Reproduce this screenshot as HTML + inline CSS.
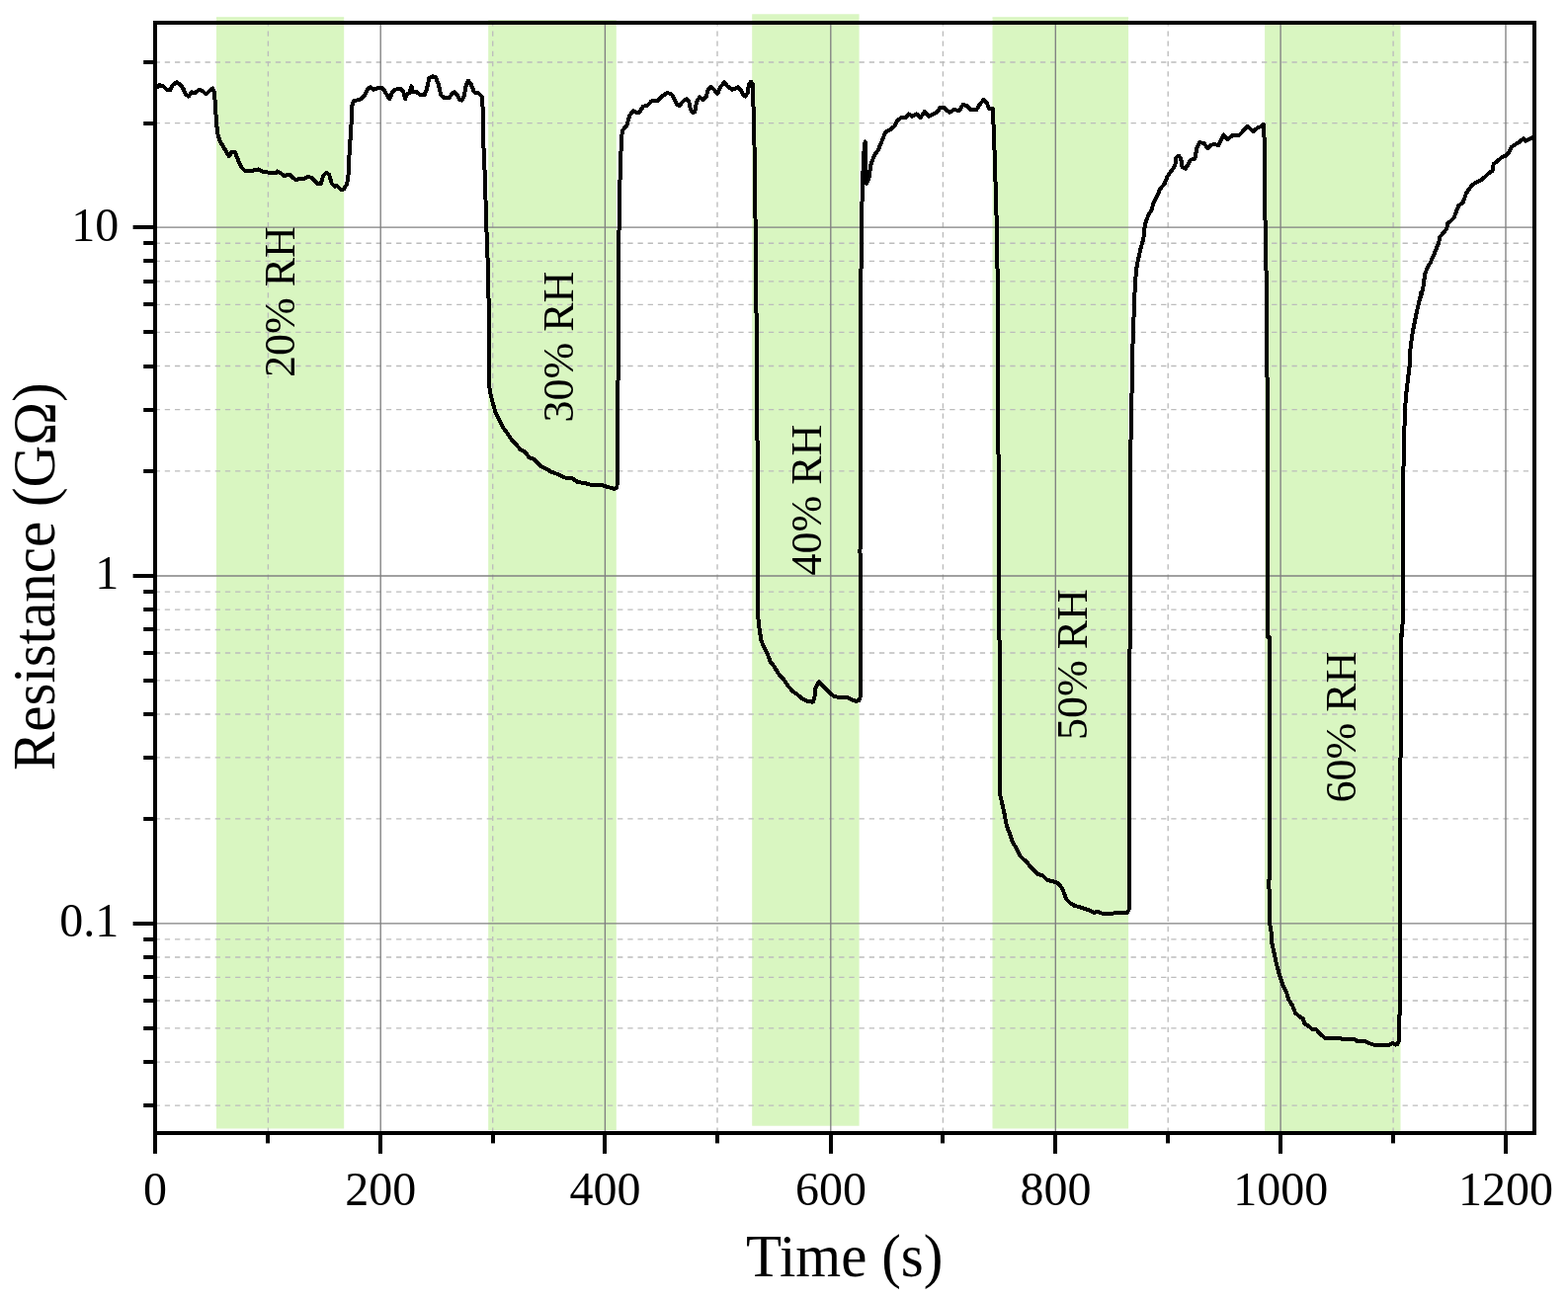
<!DOCTYPE html>
<html lang="en">
<head>
<meta charset="utf-8">
<title>Resistance vs Time</title>
<style>html,body{margin:0;padding:0;background:#fff}body{width:1587px;height:1315px;overflow:hidden}svg{display:block}</style>
</head>
<body>
<svg width="1587" height="1315" viewBox="0 0 1587 1315">
<rect x="0" y="0" width="1587" height="1315" fill="#ffffff"/>
<g fill="#d9f6c1">
<rect x="219.0" y="17.2" width="129.2" height="1125.3"/>
<rect x="494.2" y="20.1" width="129.6" height="1123.9"/>
<rect x="761.2" y="14.3" width="108.4" height="1125.4"/>
<rect x="1004.5" y="17.2" width="137.6" height="1125.3"/>
<rect x="1280.1" y="21.0" width="137.4" height="1125.0"/>
</g>
<g stroke="#bcbcbc" stroke-width="1.35" stroke-dasharray="5.3 4.885" fill="none">
<line x1="156.6" y1="1119.1" x2="1549.0" y2="1119.1"/>
<line x1="156.6" y1="1075.1" x2="1549.0" y2="1075.1"/>
<line x1="156.6" y1="1040.9" x2="1549.0" y2="1040.9"/>
<line x1="156.6" y1="1013.0" x2="1549.0" y2="1013.0"/>
<line x1="156.6" y1="989.4" x2="1549.0" y2="989.4"/>
<line x1="156.6" y1="969.0" x2="1549.0" y2="969.0"/>
<line x1="156.6" y1="950.9" x2="1549.0" y2="950.9"/>
<line x1="156.6" y1="828.9" x2="1549.0" y2="828.9"/>
<line x1="156.6" y1="766.9" x2="1549.0" y2="766.9"/>
<line x1="156.6" y1="723.0" x2="1549.0" y2="723.0"/>
<line x1="156.6" y1="688.9" x2="1549.0" y2="688.9"/>
<line x1="156.6" y1="661.0" x2="1549.0" y2="661.0"/>
<line x1="156.6" y1="637.5" x2="1549.0" y2="637.5"/>
<line x1="156.6" y1="617.1" x2="1549.0" y2="617.1"/>
<line x1="156.6" y1="599.1" x2="1549.0" y2="599.1"/>
<line x1="156.6" y1="476.8" x2="1549.0" y2="476.8"/>
<line x1="156.6" y1="414.6" x2="1549.0" y2="414.6"/>
<line x1="156.6" y1="370.5" x2="1549.0" y2="370.5"/>
<line x1="156.6" y1="336.3" x2="1549.0" y2="336.3"/>
<line x1="156.6" y1="308.4" x2="1549.0" y2="308.4"/>
<line x1="156.6" y1="284.8" x2="1549.0" y2="284.8"/>
<line x1="156.6" y1="264.3" x2="1549.0" y2="264.3"/>
<line x1="156.6" y1="246.2" x2="1549.0" y2="246.2"/>
<line x1="156.6" y1="124.6" x2="1549.0" y2="124.6"/>
<line x1="156.6" y1="63.0" x2="1549.0" y2="63.0"/>
<line x1="271.4" y1="21.2" x2="271.4" y2="1145.0"/>
<line x1="498.7" y1="21.2" x2="498.7" y2="1145.0"/>
<line x1="726.0" y1="21.2" x2="726.0" y2="1145.0"/>
<line x1="954.4" y1="21.2" x2="954.4" y2="1145.0"/>
<line x1="1182.2" y1="21.2" x2="1182.2" y2="1145.0"/>
<line x1="1410.1" y1="21.2" x2="1410.1" y2="1145.0"/>
</g>
<g stroke="#808080" stroke-width="1.35" fill="none">
<line x1="156.9" y1="230.1" x2="1553.0" y2="230.1"/>
<line x1="156.9" y1="583.0" x2="1553.0" y2="583.0"/>
<line x1="156.9" y1="934.8" x2="1553.0" y2="934.8"/>
<line x1="385.2" y1="23.0" x2="385.2" y2="1147.0"/>
<line x1="612.4" y1="23.0" x2="612.4" y2="1147.0"/>
<line x1="840.8" y1="23.0" x2="840.8" y2="1147.0"/>
<line x1="1068.3" y1="23.0" x2="1068.3" y2="1147.0"/>
<line x1="1296.1" y1="23.0" x2="1296.1" y2="1147.0"/>
<line x1="1524.0" y1="23.0" x2="1524.0" y2="1147.0"/>
</g>
<g font-family="'Liberation Serif', 'Times New Roman', serif" font-size="44" fill="#000" text-anchor="middle">
<text transform="translate(298.3,305.6) rotate(-90) scale(1,1.03)">20% RH</text>
<text transform="translate(580.4,351.0) rotate(-90) scale(1,1.03)">30% RH</text>
<text transform="translate(830.8,506.1) rotate(-90) scale(1,1.03)">40% RH</text>
<text transform="translate(1100.0,672.5) rotate(-90) scale(1,1.03)">50% RH</text>
<text transform="translate(1372.3,736.1) rotate(-90) scale(1,1.03)">60% RH</text>
</g>
<path d="M156.8,89.8 L158.4,88.8 L161.4,86.2 L165.2,87.3 L169.0,91.1 L172.5,91.1 L174.3,86.5 L178.9,83.2 L182.7,85.7 L185.7,90.3 L188.0,95.6 L190.8,97.5 L194.1,93.3 L197.1,94.1 L201.7,90.8 L205.5,92.6 L208.6,95.3 L212.4,91.8 L215.1,89.5 L216.9,93.3 L218.0,107.8 L219.2,126.0 L220.7,137.5 L223.0,143.5 L227.6,151.1 L231.8,158.3 L234.4,154.2 L237.9,154.2 L239.7,158.7 L242.0,164.8 L245.1,170.2 L248.1,172.9 L254.9,172.9 L261.8,171.4 L265.6,173.5 L271.7,174.7 L279.3,175.5 L280.8,173.5 L283.8,175.0 L287.6,178.1 L293.0,176.5 L296.8,180.0 L299.8,182.3 L303.6,180.8 L308.2,180.8 L311.2,179.3 L315.0,179.6 L318.8,183.5 L321.9,186.1 L324.9,185.8 L327.2,177.8 L330.2,174.7 L333.3,177.0 L335.6,185.4 L338.6,188.7 L340.9,188.1 L344.7,191.7 L347.7,191.7 L350.8,186.9 L352.3,180.8 L353.0,168.6 L353.8,150.4 L355.3,132.1 L356.1,107.8 L357.6,102.5 L360.6,101.7 L366.0,99.9 L369.0,96.4 L372.1,90.3 L375.1,88.0 L378.1,90.8 L382.7,89.2 L386.5,88.8 L388.8,91.1 L392.2,97.1 L394.4,100.2 L396.7,94.1 L399.8,90.8 L405.1,89.5 L408.1,92.6 L410.1,100.2 L411.9,95.6 L414.2,94.1 L416.5,87.3 L418.0,93.3 L421.8,93.3 L425.6,96.4 L429.4,96.4 L431.7,91.1 L434.4,78.9 L437.8,77.4 L440.8,78.1 L443.9,85.7 L446.2,96.4 L449.2,98.7 L454.5,99.0 L457.6,94.9 L459.8,93.3 L462.9,96.4 L465.2,101.0 L467.5,101.7 L469.7,97.1 L472.0,85.0 L474.0,81.6 L476.6,85.0 L479.6,92.6 L481.1,94.1 L483.4,93.8 L486.5,96.4 L488.3,98.7 L488.7,115.4 L489.2,142.8 L491.0,182.3 L492.2,229.5 L493.2,247.7 L495.2,330.0 L495.2,390.8 L496.0,396.9 L498.3,406.0 L501.3,416.7 L505.1,424.3 L508.9,432.7 L513.5,438.7 L518.0,445.6 L522.6,450.2 L527.1,455.5 L531.7,457.8 L535.5,463.1 L540.1,464.6 L543.9,468.4 L547.7,472.2 L553.0,474.5 L557.6,477.5 L563.7,479.8 L568.2,482.1 L574.3,484.4 L579.6,484.4 L584.9,488.2 L591.0,488.9 L597.1,490.5 L603.2,490.9 L609.3,491.2 L613.8,492.7 L619.2,494.0 L622.2,495.0 L624.5,492.7 L624.8,466.9 L624.9,418.2 L625.7,375.6 L626.0,330.0 L625.9,250.0 L626.6,231.0 L627.4,185.4 L628.6,150.4 L629.7,132.9 L631.2,130.6 L634.2,127.6 L637.3,116.9 L641.1,112.1 L644.1,113.9 L647.1,113.6 L651.0,107.8 L655.5,106.6 L659.3,102.5 L665.4,102.0 L670.7,97.1 L675.3,93.8 L679.8,95.6 L682.9,101.0 L685.2,106.3 L687.5,107.0 L691.3,102.5 L695.1,100.2 L697.3,103.2 L698.9,110.8 L701.1,113.9 L703.4,113.1 L704.9,103.2 L708.0,98.4 L711.8,101.0 L714.8,97.9 L716.8,90.3 L719.4,88.0 L722.4,90.3 L726.2,94.9 L729.3,88.0 L733.1,83.2 L736.1,87.3 L741.4,90.8 L746.8,88.3 L749.8,91.1 L752.1,95.6 L754.4,97.5 L756.7,94.1 L757.9,85.7 L760.0,82.7 L762.0,85.7 L762.4,103.2 L763.5,147.3 L764.0,191.4 L765.0,250.0 L767.4,560.0 L767.4,625.4 L768.1,633.0 L770.4,648.2 L773.5,655.8 L777.3,663.4 L779.5,669.5 L784.1,675.6 L788.7,683.2 L793.2,687.8 L797.8,694.6 L802.4,699.9 L806.9,703.0 L811.5,706.8 L817.6,710.3 L822.9,710.6 L824.4,706.0 L825.2,696.9 L829.0,690.0 L834.3,696.1 L840.4,702.2 L844.9,705.2 L851.0,706.0 L857.1,705.7 L861.7,708.3 L866.2,709.8 L869.3,709.0 L870.5,706.0 L870.5,636.0 L870.5,560.0 L871.6,250.0 L872.1,217.3 L873.1,185.4 L874.0,158.0 L875.6,143.5 L876.2,165.6 L877.1,186.1 L879.7,179.3 L881.2,167.1 L885.0,157.2 L888.8,151.9 L892.6,142.8 L896.4,133.3 L900.2,131.8 L905.5,127.6 L908.6,121.5 L912.4,119.2 L916.2,119.2 L919.7,115.4 L923.0,117.7 L927.6,115.4 L931.4,119.2 L935.9,112.7 L939.7,117.7 L943.5,116.2 L948.1,113.9 L951.9,108.6 L954.9,108.6 L961.0,113.9 L965.6,111.1 L970.9,112.1 L974.7,106.0 L978.5,107.0 L982.3,110.8 L988.4,111.1 L992.2,104.8 L995.7,101.0 L999.0,104.8 L1001.3,110.1 L1004.8,110.1 L1005.4,123.0 L1006.7,156.5 L1008.2,206.7 L1009.4,250.0 L1012.1,760.0 L1012.1,804.1 L1013.6,810.2 L1016.6,823.9 L1018.9,836.0 L1021.9,843.7 L1025.0,852.8 L1028.8,858.9 L1032.6,866.5 L1035.6,869.8 L1038.7,871.8 L1042.5,877.1 L1047.0,881.7 L1050.8,885.0 L1055.4,886.5 L1060.0,890.8 L1064.5,892.0 L1069.1,893.1 L1072.9,896.1 L1075.9,901.4 L1079.0,909.8 L1082.8,913.9 L1087.3,916.7 L1094.9,918.9 L1102.5,921.5 L1107.1,924.0 L1110.9,922.7 L1116.2,925.0 L1125.4,925.0 L1128.4,924.0 L1140.6,924.0 L1142.5,921.2 L1142.5,767.6 L1143.3,760.0 L1143.3,700.0 L1143.8,600.0 L1144.1,490.0 L1144.1,465.0 L1145.3,408.6 L1146.4,350.8 L1147.9,311.3 L1148.3,300.0 L1149.8,274.9 L1151.3,265.8 L1154.3,252.1 L1157.4,241.4 L1158.1,232.3 L1159.7,224.7 L1162.7,217.1 L1165.7,212.5 L1167.3,205.7 L1171.1,198.9 L1174.1,191.3 L1178.7,185.9 L1181.7,178.3 L1185.5,173.0 L1189.3,167.7 L1190.5,159.3 L1193.1,157.8 L1195.1,160.1 L1196.6,169.2 L1200.0,170.7 L1203.0,165.4 L1205.3,161.6 L1209.4,160.8 L1211.4,149.4 L1214.4,144.1 L1219.0,145.3 L1222.0,150.2 L1225.1,147.1 L1228.9,145.9 L1233.4,147.1 L1236.5,140.3 L1238.3,136.5 L1242.5,141.1 L1247.1,137.3 L1251.7,136.5 L1254.7,136.5 L1259.3,131.2 L1262.3,127.7 L1265.4,130.4 L1268.4,133.2 L1272.2,129.7 L1276.0,128.1 L1278.7,125.6 L1279.8,143.3 L1280.6,233.8 L1282.1,300.0 L1282.6,400.0 L1283.3,490.0 L1283.3,645.0 L1284.9,645.0 L1284.9,890.0 L1284.4,890.0 L1284.9,934.1 L1286.4,941.7 L1287.5,955.4 L1289.8,966.0 L1292.1,976.7 L1295.1,987.3 L1298.1,996.5 L1301.9,1004.1 L1304.2,1011.7 L1308.0,1017.8 L1311.1,1025.4 L1315.6,1029.2 L1319.0,1031.4 L1320.2,1036.0 L1324.0,1038.3 L1327.8,1041.8 L1332.4,1042.4 L1336.9,1047.4 L1341.2,1050.9 L1356.7,1050.9 L1359.7,1052.4 L1371.9,1052.4 L1373.4,1054.0 L1381.8,1054.0 L1385.6,1056.1 L1390.2,1057.6 L1394.7,1058.1 L1406.9,1057.6 L1409.2,1056.1 L1412.2,1057.6 L1414.5,1057.0 L1415.7,1054.3 L1416.0,1028.4 L1417.2,1026.9 L1417.2,890.0 L1417.4,800.0 L1418.0,643.0 L1419.5,643.0 L1419.7,490.0 L1420.8,464.9 L1421.2,439.0 L1422.3,410.2 L1423.8,393.4 L1425.3,381.3 L1426.8,369.1 L1427.6,350.8 L1429.9,335.6 L1432.9,320.4 L1436.0,306.7 L1438.3,296.1 L1438.3,300.0 L1440.5,290.1 L1442.1,277.9 L1444.3,271.9 L1448.1,265.0 L1451.2,258.2 L1453.5,252.1 L1456.2,246.0 L1457.3,239.9 L1461.1,235.4 L1464.1,231.6 L1465.3,226.2 L1468.7,223.5 L1471.7,220.2 L1474.5,212.5 L1476.3,208.3 L1480.8,204.9 L1483.9,195.8 L1486.2,192.5 L1490.0,187.5 L1494.5,184.4 L1499.1,182.1 L1503.7,178.3 L1506.7,175.3 L1510.5,173.0 L1511.6,166.2 L1515.8,162.7 L1520.4,159.0 L1524.2,157.5 L1527.2,154.0 L1529.5,149.0 L1533.3,146.4 L1537.1,144.4 L1541.7,140.3 L1544.0,142.9 L1547.8,141.1 L1551.6,138.8" fill="none" stroke="#000" stroke-width="4" stroke-linejoin="round" stroke-linecap="butt" shape-rendering="crispEdges"/>
<rect x="157" y="23" width="1396" height="1124" fill="none" stroke="#000" stroke-width="4"/>
<g stroke="#000" stroke-width="4" fill="none">
<line x1="134.6" y1="230" x2="157" y2="230"/>
<line x1="134.6" y1="583" x2="157" y2="583"/>
<line x1="134.6" y1="935" x2="157" y2="935"/>
<line x1="145.2" y1="1119" x2="157" y2="1119"/>
<line x1="145.2" y1="1075" x2="157" y2="1075"/>
<line x1="145.2" y1="1041" x2="157" y2="1041"/>
<line x1="145.2" y1="1013" x2="157" y2="1013"/>
<line x1="145.2" y1="989" x2="157" y2="989"/>
<line x1="145.2" y1="969" x2="157" y2="969"/>
<line x1="145.2" y1="951" x2="157" y2="951"/>
<line x1="145.2" y1="829" x2="157" y2="829"/>
<line x1="145.2" y1="767" x2="157" y2="767"/>
<line x1="145.2" y1="723" x2="157" y2="723"/>
<line x1="145.2" y1="689" x2="157" y2="689"/>
<line x1="145.2" y1="661" x2="157" y2="661"/>
<line x1="145.2" y1="637" x2="157" y2="637"/>
<line x1="145.2" y1="617" x2="157" y2="617"/>
<line x1="145.2" y1="599" x2="157" y2="599"/>
<line x1="145.2" y1="477" x2="157" y2="477"/>
<line x1="145.2" y1="415" x2="157" y2="415"/>
<line x1="145.2" y1="371" x2="157" y2="371"/>
<line x1="145.2" y1="336" x2="157" y2="336"/>
<line x1="145.2" y1="308" x2="157" y2="308"/>
<line x1="145.2" y1="285" x2="157" y2="285"/>
<line x1="145.2" y1="264" x2="157" y2="264"/>
<line x1="145.2" y1="246" x2="157" y2="246"/>
<line x1="145.2" y1="125" x2="157" y2="125"/>
<line x1="145.2" y1="63" x2="157" y2="63"/>
<line x1="157" y1="1147.0" x2="157" y2="1167.9"/>
<line x1="385" y1="1147.0" x2="385" y2="1167.9"/>
<line x1="612" y1="1147.0" x2="612" y2="1167.9"/>
<line x1="841" y1="1147.0" x2="841" y2="1167.9"/>
<line x1="1068" y1="1147.0" x2="1068" y2="1167.9"/>
<line x1="1296" y1="1147.0" x2="1296" y2="1167.9"/>
<line x1="1524" y1="1147.0" x2="1524" y2="1167.9"/>
<line x1="271" y1="1147.0" x2="271" y2="1157.4"/>
<line x1="499" y1="1147.0" x2="499" y2="1157.4"/>
<line x1="726" y1="1147.0" x2="726" y2="1157.4"/>
<line x1="954" y1="1147.0" x2="954" y2="1157.4"/>
<line x1="1182" y1="1147.0" x2="1182" y2="1157.4"/>
<line x1="1410" y1="1147.0" x2="1410" y2="1157.4"/>
</g>
<g font-family="'Liberation Serif', 'Times New Roman', serif" font-size="48" fill="#000">
<text x="157.0" y="1219.6" text-anchor="middle">0</text>
<text x="385.3" y="1219.6" text-anchor="middle">200</text>
<text x="612.5" y="1219.6" text-anchor="middle">400</text>
<text x="840.9" y="1219.6" text-anchor="middle">600</text>
<text x="1068.4" y="1219.6" text-anchor="middle">800</text>
<text x="1296.2" y="1219.6" text-anchor="middle">1000</text>
<text x="1524.1" y="1219.6" text-anchor="middle">1200</text>
<text x="120.3" y="244.4" text-anchor="end">10</text>
<text x="120.2" y="596.2" text-anchor="end">1</text>
<text x="120.2" y="948.0" text-anchor="end">0.1</text>
</g>
<g font-family="'Liberation Serif', 'Times New Roman', serif" font-size="59" fill="#000" text-anchor="middle">
<text transform="translate(854.7,1291.6) scale(1,1.035)">Time (s)</text>
<text transform="translate(55.1,583.7) rotate(-90) scale(1,1.035)">Resistance (GΩ)</text>
</g>
</svg>
</body>
</html>
